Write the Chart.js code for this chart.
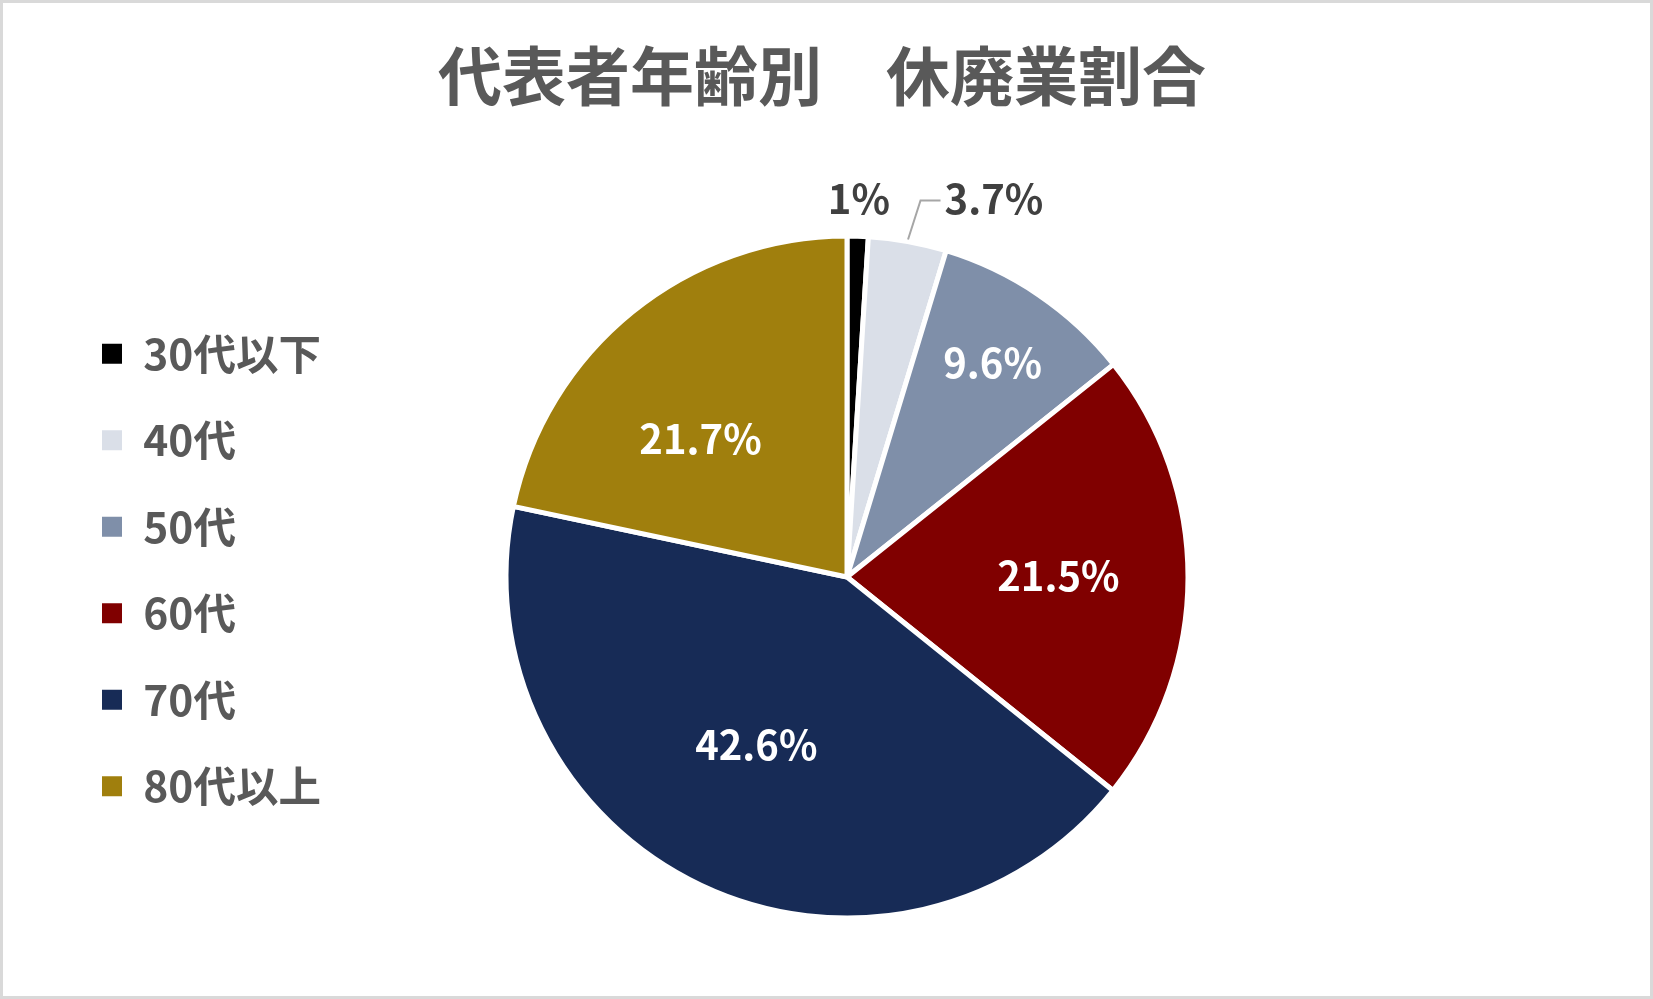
<!DOCTYPE html>
<html lang="ja">
<head>
<meta charset="utf-8">
<title>代表者年齢別 休廃業割合</title>
<script src="https://cdn.jsdelivr.net/npm/chart.js@4.4.1/dist/chart.umd.min.js"></script>
<style>
  html, body { margin: 0; padding: 0; background: #fff; overflow: hidden; }
  #wrap { position: relative; width: 1653px; height: 999px; }
</style>
</head>
<body>
<div id="wrap"><canvas id="pieChart"></canvas></div>
<script>
// data
const chartTitle = '代表者年齢別　休廃業割合';
const ageLabels = ['30代以下', '40代', '50代', '60代', '70代', '80代以上'];
const shareValues = [1.0, 3.7, 9.6, 21.5, 42.6, 21.7];
const sliceColors = ['#000000', '#dadfe8', '#7f8fa9', '#800000', '#172b56', '#a07f0d'];

const FONT = '"Noto Sans CJK JP", "Noto Sans", sans-serif';

// where each value label goes (r = share of the radius, da = angle nudge in degrees)
const labelPlacement = [
    { r: 1.11, da: 0, color: '#404040' },
    { r: 1.125, da: 0.8, color: '#404040', leader: true },
    { r: 0.76, da: 0, color: '#ffffff' },
    { r: 0.62, da: -0.5, color: '#ffffff' },
    { r: 0.56, da: 3, color: '#ffffff' },
    { r: 0.59, da: -7.7, color: '#ffffff' }
];

function fmtPct(v) {
    return Number(v.toFixed(1)) + '%';
}

// white background + grey frame
const frame = {
    id: 'frame',
    beforeDraw(chart) {
        const ctx = chart.ctx;
        ctx.save();
        ctx.fillStyle = '#ffffff';
        ctx.fillRect(0, 0, chart.width, chart.height);
        ctx.restore();
    },
    afterDraw(chart) {
        const ctx = chart.ctx;
        ctx.save();
        ctx.strokeStyle = '#d9d9d9';
        ctx.lineWidth = 3;
        ctx.strokeRect(1.5, 1.5, chart.width - 3, chart.height - 3);
        ctx.restore();
    }
};

// legend sits in the chart area but chart.js resets its top to 0, put it back
// and nudge the title a bit left like the original
const placeBoxes = {
    id: 'placeBoxes',
    afterLayout(chart) {
        const lg = chart.legend;
        lg.top = chart.chartArea.top - 7;
        lg.bottom = chart.chartArea.bottom - 7;
        lg.left = lg.left - 3;
        chart.titleBlock.left = chart.titleBlock.left - 50;
    }
};

// value labels on / beside the slices
const pieLabels = {
    id: 'pieLabels',
    afterDatasetsDraw(chart) {
        const ctx = chart.ctx;
        const meta = chart.getDatasetMeta(0);
        ctx.save();
        ctx.font = 'bold 40px ' + FONT;
        ctx.textBaseline = 'middle';
        meta.data.forEach((arc, i) => {
            const p = arc.getProps(['x', 'y', 'startAngle', 'endAngle', 'outerRadius'], true);
            const place = labelPlacement[i];
            const mid = (p.startAngle + p.endAngle) / 2;
            const ang = mid + place.da * Math.PI / 180;
            const r = p.outerRadius * place.r;
            const tx = p.x + Math.cos(ang) * r;
            const ty = p.y + Math.sin(ang) * r;
            const txt = fmtPct(shareValues[i]);
            ctx.fillStyle = place.color;
            if (place.leader) {
                const sx = p.x + Math.cos(mid) * (p.outerRadius + 2);
                const sy = p.y + Math.sin(mid) * (p.outerRadius + 2);
                ctx.strokeStyle = '#a6a6a6';
                ctx.lineWidth = 2;
                ctx.beginPath();
                ctx.moveTo(sx, sy);
                ctx.lineTo(tx, ty);
                ctx.lineTo(tx + 20, ty);
                ctx.stroke();
                ctx.textAlign = 'left';
                ctx.fillText(txt, tx + 24, ty - 2);
            } else {
                ctx.textAlign = 'center';
                ctx.fillText(txt, tx, ty);
            }
        });
        ctx.restore();
    }
};

const ctx = document.getElementById('pieChart');
const chart = new Chart(ctx, {
    type: 'pie',
    data: {
        labels: ageLabels,
        datasets: [{
            data: shareValues,
            backgroundColor: sliceColors,
            borderColor: '#ffffff',
            borderWidth: 5,
            hoverOffset: 0
        }]
    },
    options: {
        responsive: true,
        maintainAspectRatio: false,
        animation: false,
        layout: {
            padding: { left: 61, right: 20, top: 0, bottom: 78.5 }
        },
        plugins: {
            title: {
                display: true,
                text: chartTitle,
                color: '#595959',
                font: { family: FONT, size: 64, weight: 'bold' },
                padding: { top: 37.6, bottom: 119.1 }
            },
            legend: {
                position: 'chartArea',
                align: 'center',
                labels: {
                    boxWidth: 20,
                    boxHeight: 20,
                    padding: 44,
                    color: '#595959',
                    font: { family: FONT, size: 42.5, weight: 'bold' },
                    generateLabels(chart) {
                        const items = Chart.overrides.pie.plugins.legend.labels.generateLabels(chart);
                        return items.map(it => Object.assign(it, { lineWidth: 0, strokeStyle: it.fillStyle }));
                    }
                }
            },
            tooltip: { enabled: false }
        }
    },
    plugins: [frame, placeBoxes, pieLabels]
});
</script>
</body>
</html>
